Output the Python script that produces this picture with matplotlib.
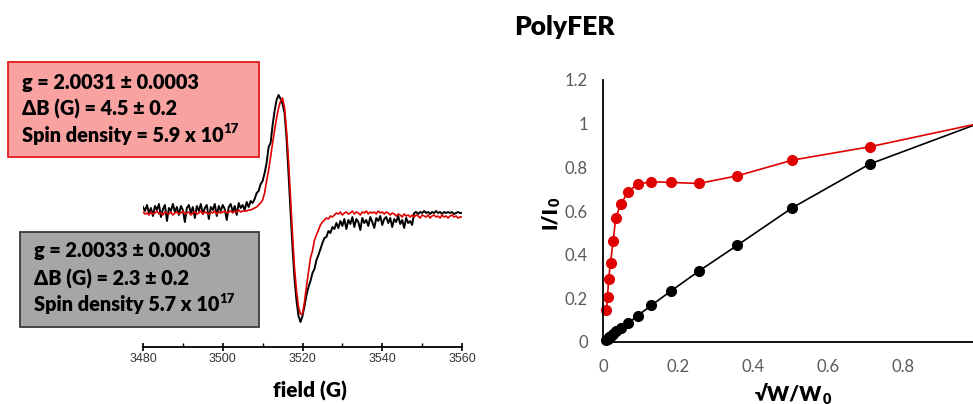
import numpy as np
import matplotlib
matplotlib.use("Agg")
import matplotlib.pyplot as plt
from matplotlib.patches import Rectangle
from matplotlib.ticker import MultipleLocator

W, H, DPI = 973, 404, 100

# ---------------- EPR spectra (arbitrary units), sampled every 0.5 G from 3480 G
field_start = 3480.0
field_step = 0.5
black_signal = [
    0.06, 0.02, 0.08, 0.00, 0.05, -0.03, 0.07, 0.03, 0.09, -0.04,
    0.04, 0.08, -0.08, 0.05, 0.02, 0.09, 0.01, 0.06, -0.02, 0.07,
    0.03, -0.09, 0.05, 0.08, 0.00, 0.06, -0.05, 0.07, 0.02, 0.09,
    -0.01, 0.05, 0.08, -0.06, 0.06, 0.03, 0.09, -0.03, 0.07, 0.02,
    0.08, 0.04, -0.07, 0.06, 0.09, 0.01, 0.07, -0.02, 0.10, 0.05,
    0.08, 0.03, 0.11, 0.06, 0.12, 0.10, 0.14, 0.20, 0.22, 0.29,
    0.32, 0.40, 0.50, 0.66, 0.70, 0.88, 1.02, 1.13, 1.18, 1.14,
    1.09, 1.00, 0.75, 0.38, 0.02, -0.35, -0.66, -0.88, -1.03, -1.09,
    -1.03, -0.93, -0.82, -0.74, -0.68, -0.60, -0.56, -0.47, -0.42, -0.36,
    -0.30, -0.25, -0.24, -0.18, -0.20, -0.14, -0.16, -0.10, -0.15, -0.08,
    -0.13, -0.06, -0.16, -0.07, -0.11, -0.04, -0.14, -0.06, -0.09, -0.17,
    -0.05, -0.10, -0.07, -0.13, -0.04, -0.09, -0.15, -0.05, -0.08, -0.03,
    -0.12, -0.06, -0.04, -0.10, -0.05, -0.14, -0.06, -0.09, -0.03, -0.11,
    -0.07, -0.15, -0.05, -0.10, -0.08, -0.12, 0.00, 0.01, -0.01, 0.01,
    0.00, 0.02, 0.00, 0.01, -0.01, 0.01, 0.00, 0.02, 0.00, 0.01,
    -0.01, 0.01, 0.00, 0.01, 0.00, 0.01, -0.01, 0.00, 0.01, 0.00,
    0.00,
]
red_signal = [
    0.01, -0.01, 0.00, -0.02, 0.01, -0.01, 0.00, 0.02, -0.01, 0.00,
    -0.02, 0.01, 0.00, -0.01, 0.01, -0.02, 0.00, 0.01, -0.01, 0.00,
    0.02, -0.01, 0.00, 0.01, -0.02, 0.00, 0.01, -0.01, 0.00, 0.02,
    -0.01, 0.01, 0.00, -0.01, 0.01, 0.00, 0.02, -0.01, 0.01, 0.00,
    0.01, 0.02, 0.00, 0.01, 0.02, 0.00, 0.02, 0.01, 0.03, 0.01,
    0.02, 0.02, 0.02, 0.03, 0.03, 0.04, 0.05, 0.06, 0.08, 0.10,
    0.13, 0.20, 0.32, 0.43, 0.56, 0.70, 0.83, 0.95, 1.05, 1.12,
    1.15, 1.05, 0.82, 0.52, 0.15, -0.22, -0.55, -0.78, -0.94, -1.01,
    -1.01, -0.89, -0.73, -0.59, -0.45, -0.38, -0.27, -0.22, -0.17, -0.12,
    -0.09, -0.07, -0.05, -0.06, -0.03, -0.04, -0.02, 0.00, -0.01, 0.01,
    -0.02, 0.00, 0.01, -0.01, 0.00, 0.02, -0.01, 0.01, 0.00, -0.02,
    0.01, 0.00, 0.02, -0.01, 0.01, 0.00, 0.01, -0.01, 0.02, 0.00,
    0.01, -0.01, 0.01, 0.00, -0.02, 0.00, -0.01, -0.03, -0.01, -0.02,
    -0.04, -0.01, -0.03, -0.02, -0.04, -0.02, -0.04, -0.02, -0.03, -0.05,
    -0.02, -0.03, -0.04, -0.02, -0.05, -0.03, -0.02, -0.04, -0.03, -0.05,
    -0.02, -0.04, -0.03, -0.05, -0.03, -0.02, -0.04, -0.03, -0.05, -0.04,
    -0.04,
]
field = field_start + field_step * np.arange(len(black_signal))
field_ticks = [3480, 3500, 3520, 3540, 3560]

# ---------------- Saturation curves
sqrt_w = [0.009, 0.012, 0.015, 0.020, 0.027, 0.034, 0.047, 0.067,
          0.092, 0.129, 0.180, 0.255, 0.358, 0.505, 0.711, 1.0]
red_ratio = [0.145, 0.206, 0.287, 0.364, 0.462, 0.569, 0.630, 0.688,
             0.723, 0.734, 0.731, 0.726, 0.761, 0.833, 0.894, 1.0]
black_ratio = [0.011, 0.016, 0.021, 0.028, 0.038, 0.050, 0.065, 0.086,
               0.120, 0.168, 0.232, 0.324, 0.443, 0.615, 0.815, 1.0]
ratio_xticks = [0, 0.2, 0.4, 0.6, 0.8]
ratio_xlabels = ["0", "0.2", "0.4", "0.6", "0.8"]
ratio_yticks = [0, 0.2, 0.4, 0.6, 0.8, 1, 1.2]
ratio_ylabels = ["0", "0.2", "0.4", "0.6", "0.8", "1", "1.2"]

box1_lines = ["g = 2.0031 ± 0.0003", "ΔB (G) = 4.5 ± 0.2", "Spin density = 5.9 x 10"]
box2_lines = ["g = 2.0033 ± 0.0003", "ΔB (G) = 2.3 ± 0.2", "Spin density 5.7 x 10"]
exponent = "17"

FONT = ["Lato", "DejaVu Sans"]
RED = "#E00000"

fig = plt.figure(figsize=(W / DPI, H / DPI), dpi=DPI)


def axes_px(l, t, r, b):
    return fig.add_axes([l / W, 1 - b / H, (r - l) / W, (b - t) / H])


def fpos(x, y):
    return (x / W, 1 - y / H)


# ---------------- Left: EPR spectra
ax1 = axes_px(143, 85, 462, 347)
ax1.plot(field, black_signal, color="black", lw=1.4)
ax1.plot(field, red_signal, color=RED, lw=1.2)
ax1.set_xlim(3480, 3560)
ax1.set_ylim(-1.34, 1.28)
for s in ["top", "right", "left"]:
    ax1.spines[s].set_visible(False)
ax1.spines["bottom"].set_linewidth(1.3)
ax1.set_yticks([])
ax1.set_xticks(field_ticks)
ax1.set_xticklabels([str(v) for v in field_ticks], family="Liberation Sans")
ax1.xaxis.set_minor_locator(MultipleLocator(10))
ax1.tick_params(axis="x", which="major", direction="inout", length=6, width=1.2,
                labelsize=9, labelcolor="#333333", pad=1.5)
ax1.tick_params(axis="x", which="minor", direction="in", length=3, width=1.0)
ax1.patch.set_visible(False)

# ---------------- Right: saturation
ax2 = axes_px(603, 80, 978, 342)
ax2.plot(sqrt_w, black_ratio, color="black", lw=1.2, marker="o", ms=7, clip_on=False)
ax2.plot(sqrt_w, red_ratio, color=RED, lw=1.2, marker="o", ms=7, clip_on=False)
ax2.set_xlim(0, 1)
ax2.set_ylim(0, 1.2)
for s in ["top", "right"]:
    ax2.spines[s].set_visible(False)
for s in ["left", "bottom"]:
    ax2.spines[s].set_linewidth(1.3)
ax2.set_xticks(ratio_xticks)
ax2.set_xticklabels(ratio_xlabels, family=FONT)
ax2.set_yticks(ratio_yticks)
ax2.set_yticklabels(ratio_ylabels, family=FONT)
ax2.tick_params(axis="x", length=0, labelsize=12, labelcolor="#595959", pad=12)
ax2.tick_params(axis="y", length=0, labelsize=12, labelcolor="#595959", pad=11)
ax2.patch.set_visible(False)

# ---------------- Text boxes
fig.patches.append(Rectangle(fpos(8, 157), (259 - 8) / W, (157 - 62) / H,
                             transform=fig.transFigure, facecolor="#F8A2A2",
                             edgecolor="#E31A1C", lw=1.3, zorder=0))
fig.patches.append(Rectangle(fpos(20, 327), (259 - 20) / W, (327 - 232) / H,
                             transform=fig.transFigure, facecolor="#A6A6A6",
                             edgecolor="#3A3A3A", lw=1.3, zorder=0))

renderer = fig.canvas.get_renderer()


def text_with_script(x, y, main, script, size, ssize, dy, center=False, **kw):
    t1 = fig.text(0, 0, main, fontsize=size, ha="left", va="center", **kw)
    t2 = fig.text(0, 0, script, fontsize=ssize, ha="left", va="center", **kw)
    w1 = t1.get_window_extent(renderer).width
    w2 = t2.get_window_extent(renderer).width
    x0 = x - (w1 + w2) / 2 if center else x
    t1.set_position(fpos(x0, y))
    t2.set_position(fpos(x0 + w1, y - dy))


def draw_box_text(x, ys, lines):
    for i, (yy, line) in enumerate(zip(ys, lines)):
        if i == 2:
            text_with_script(x, yy, line, exponent, 14.3, 9.5, 6, family=FONT, weight="heavy")
        else:
            fig.text(*fpos(x, yy), line, fontsize=14.3, ha="left", va="center",
                     family=FONT, weight="heavy")


draw_box_text(22, [82, 109, 135], box1_lines)
draw_box_text(34, [251, 279, 305], box2_lines)

# ---------------- Titles and axis labels
fig.text(*fpos(564, 27), "PolyFER", fontsize=19, ha="center", va="center",
         family=FONT, weight="heavy")
fig.text(*fpos(310, 391), "field (G)", fontsize=15, ha="center", va="center",
         family=FONT, weight="heavy")
text_with_script(793, 394, "√W/W", "0", 15, 10.5, -5, center=True,
                 family=FONT, weight="heavy")

# rotated y label I/I0
cx, cy = 550, 213
t1 = fig.text(0, 0, "I/I", fontsize=15, rotation=90, ha="center", va="bottom",
              family=FONT, weight="heavy")
t2 = fig.text(0, 0, "0", fontsize=10.5, rotation=90, ha="center", va="bottom",
              family=FONT, weight="heavy")
h1 = t1.get_window_extent(renderer).height
h2 = t2.get_window_extent(renderer).height
bottom = cy + (h1 + h2) / 2
t1.set_position(fpos(cx, bottom))
t2.set_position(fpos(cx + 5, bottom - h1))

fig.savefig("out.png", dpi=DPI)
